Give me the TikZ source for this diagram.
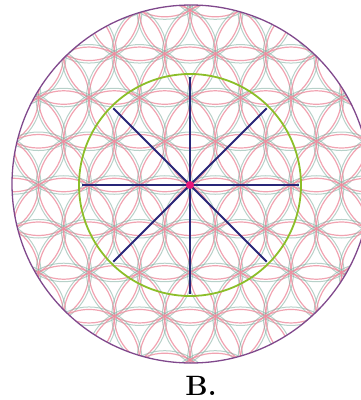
\documentclass[tikz,border=0pt]{standalone}
\usepackage{tikz}
\usetikzlibrary{calc}
\definecolor{petal}{RGB}{238,140,158}
\definecolor{petalshade}{RGB}{135,178,165}
\definecolor{rimcol}{RGB}{128,72,140}
\definecolor{ringcol}{RGB}{140,190,40}
\definecolor{spokecol}{RGB}{40,38,120}
\definecolor{hubcol}{RGB}{232,20,120}

\begin{document}
\begin{tikzpicture}[x=1pt, y=-1pt,
	petalline/.style={petal, line width=1.2pt, opacity=0.8},
	shadeline/.style={petalshade, line width=1pt, opacity=0.6},
	spoke/.style={spokecol, line width=1.8pt},
	rim/.style={rimcol, line width=1.3pt},
	ring/.style={ringcol, line width=1.8pt}]
	\useasboundingbox (0,0) rectangle (361,400);
	\def\lat{50.5}
	\pgfmathsetmacro{\rowh}{\lat*sqrt(3)/2}

	% --- flower of life lattice, clipped by the rim ---
	\begin{scope}
		\clip (191,184) circle (179);
		\foreach \j in {-5,...,5} {
			\foreach \i in {-7,...,7} {
				\pgfmathsetmacro{\px}{190+\i*\lat+\j*\lat/2}
				\pgfmathsetmacro{\py}{185+\j*\rowh}
				\draw[shadeline] (\px,\py) circle (\lat+2.5);
				\draw[petalline] (\px,\py) circle (\lat);
			}
		}
	\end{scope}

	% --- rim and inner ring ---
	\draw[rim] (191,184) circle (179);
	\coordinate (hub) at (190,185);
	\draw[ring] (hub) circle (111);

	% --- spokes ---
	\foreach \a in {0,45,...,315}
		\coordinate (tip\a) at ($(hub)+(\a:108.5)$);
	\foreach \a in {0,45,...,315}
		\draw[spoke] (hub) -- (tip\a);
	\fill[hubcol] (hub) circle (4);

	\node[font=\fontsize{28}{32}\selectfont\bfseries, anchor=base] (caption) at (201,395) {B.};
\end{tikzpicture}
\end{document}
